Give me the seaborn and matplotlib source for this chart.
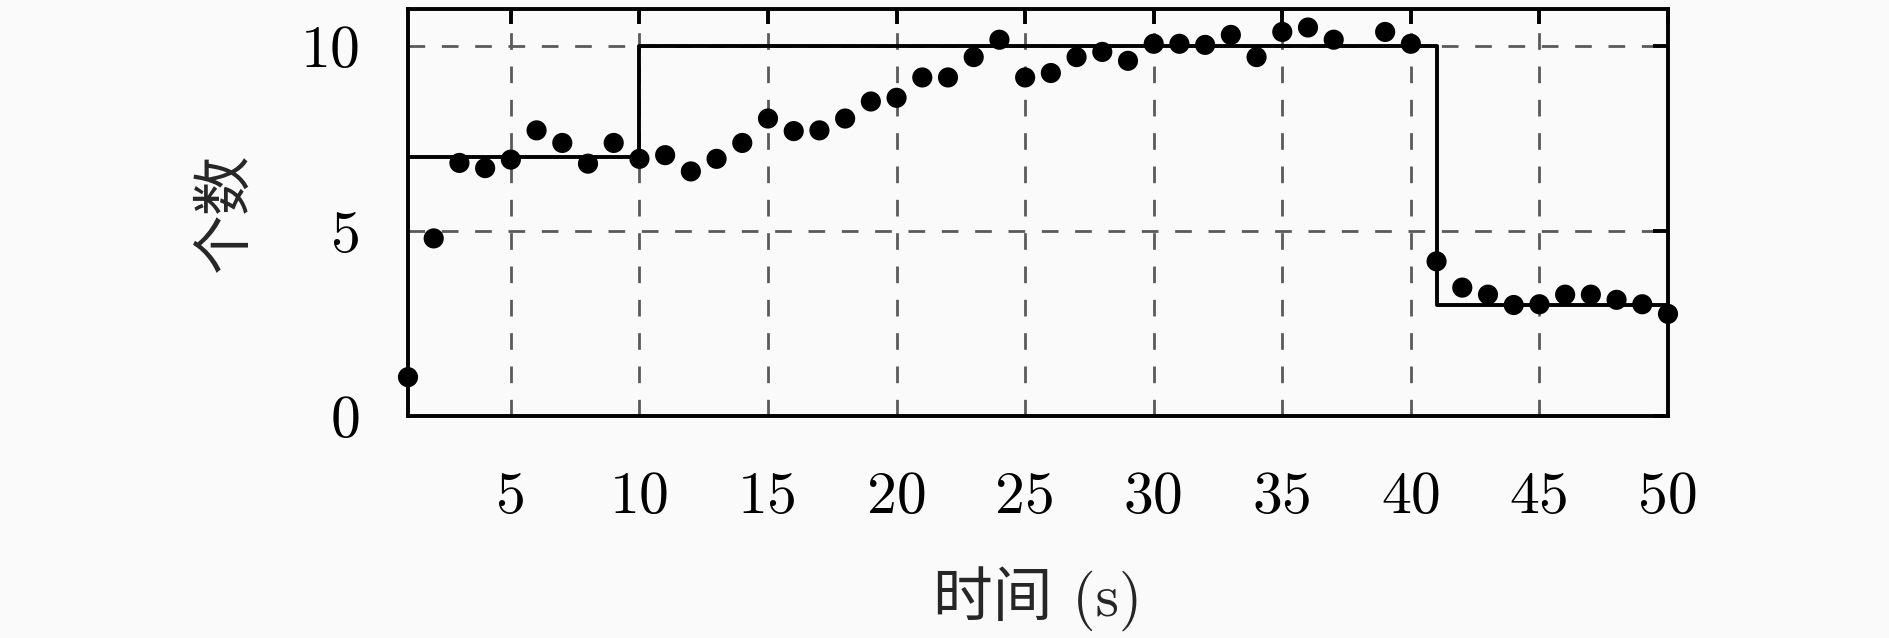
import numpy as np
import matplotlib
matplotlib.use('Agg')
import matplotlib.pyplot as plt
import seaborn as sns
import pandas as pd

# measured counts, one per second (no point at t = 38)
time_s = list(range(1, 51))
counts = [1.05, 4.8, 6.84, 6.7, 6.93, 7.72, 7.38, 6.82, 7.38, 6.95,
          7.05, 6.61, 6.95, 7.38, 8.04, 7.7, 7.72, 8.04, 8.5, 8.6,
          9.15, 9.15, 9.7, 10.17, 9.15, 9.27, 9.7, 9.84, 9.6, 10.06,
          10.06, 10.03, 10.3, 9.7, 10.38, 10.5, 10.17, np.nan, 10.38, 10.06,
          4.18, 3.47, 3.28, 3.0, 3.02, 3.28, 3.28, 3.14, 3.02, 2.76]

# true number (step reference)
step_t = [1, 10, 41, 50]
step_n = [7, 10, 3, 3]

xticks = [5, 10, 15, 20, 25, 30, 35, 40, 45, 50]
yticks = [0, 5, 10]

sns.set_style('white')
plt.rcParams['font.family'] = ['cmr10', 'Noto Sans CJK SC']
plt.rcParams['axes.formatter.use_mathtext'] = True

bg = '#fafafa'
fig = plt.figure(figsize=(18.9, 6.38), dpi=100, facecolor=bg)
ax = fig.add_axes([408 / 1890, 222 / 638, 1260 / 1890, 407 / 638])
ax.set_facecolor(bg)

dots = pd.DataFrame({'t': time_s, 'n': counts}).dropna()
steps = pd.DataFrame({'t': step_t, 'n': step_n})

sns.lineplot(data=steps, x='t', y='n', drawstyle='steps-post', estimator=None,
             color='black', linewidth=2.8, ax=ax, zorder=3)
sns.scatterplot(data=dots, x='t', y='n', color='black', s=210, marker='o',
                edgecolor='none', ax=ax, zorder=4, clip_on=False)

ax.set_xlim(1, 50)
ax.set_ylim(0, 11)
ax.set_xticks(xticks)
ax.set_yticks(yticks)
ax.set_xticklabels([str(v) for v in xticks])
ax.set_yticklabels([str(v) for v in yticks])

ax.grid(True, color='#5a5a5a', linestyle=(0, (6, 6)), linewidth=2.0)
ax.set_axisbelow(True)
for s in ax.spines.values():
    s.set_visible(True)
    s.set_color('black')
    s.set_linewidth(2.8)

ax.tick_params(direction='in', length=11, width=2.8, top=True, right=True,
               labelsize=43, colors='black')
ax.tick_params(axis='x', pad=40)
ax.tick_params(axis='y', pad=34)

ax.set_xlabel('时间 (s)', fontsize=43, labelpad=30)
ax.set_ylabel('个数', fontsize=43, labelpad=34)

fig.savefig('out.png', dpi=100, facecolor=bg)
